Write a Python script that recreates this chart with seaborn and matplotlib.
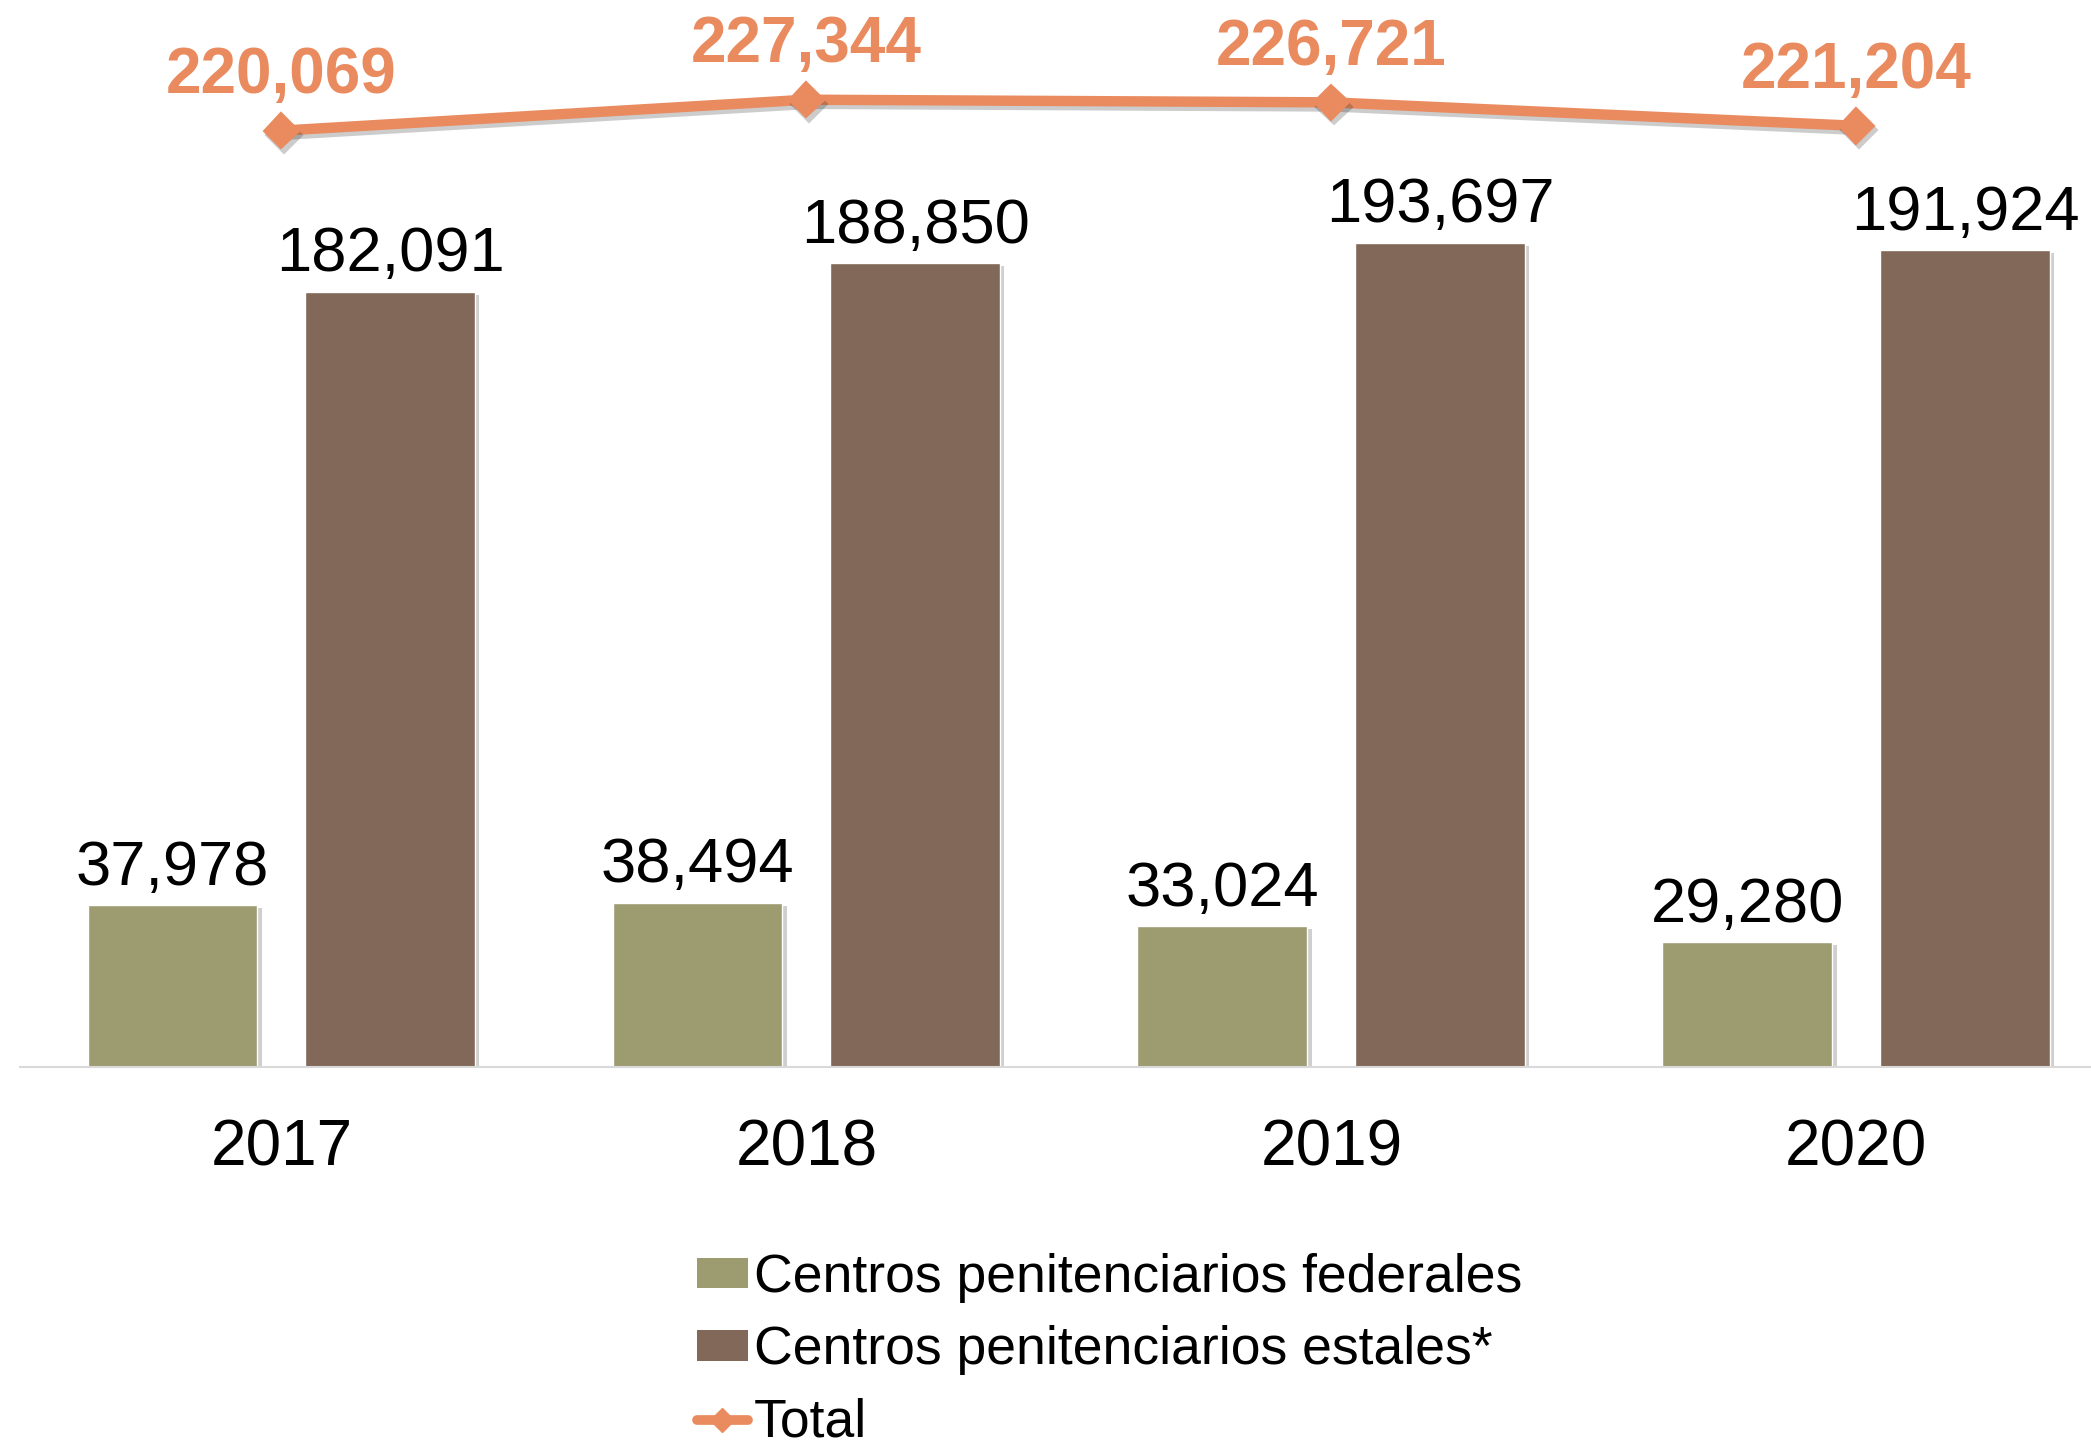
import pandas as pd
import seaborn as sns
import matplotlib.pyplot as plt
import matplotlib.patheffects as pe
from matplotlib.patches import Patch
from matplotlib.lines import Line2D

years = ['2017', '2018', '2019', '2020']
federales = [37978, 38494, 33024, 29280]
estatales = [182091, 188850, 193697, 191924]
total = [220069, 227344, 226721, 221204]
series_names = ['Centros penitenciarios federales', 'Centros penitenciarios estales*']
total_name = 'Total'

green = '#9D9B70'
brown = '#816858'
orange = '#E98B5F'

sns.set_theme(style='white')
plt.rcParams['font.family'] = ['Liberation Sans', 'DejaVu Sans']

df = pd.DataFrame({
    'year': years * 2,
    'value': federales + estatales,
    'tipo': [series_names[0]] * 4 + [series_names[1]] * 4,
})

fig = plt.figure(figsize=(20.91, 14.52), dpi=100)
ax = fig.add_axes([20 / 2091, 0.2652, 1 - 20 / 2091, 0.7348])

sns.barplot(data=df, x='year', y='value', hue='tipo', palette=[green, brown],
            width=0.83, gap=0.22, saturation=1, legend=False, ax=ax)

shadow = [pe.SimplePatchShadow(offset=(3, -2), shadow_rgbFace='#777777', alpha=0.35), pe.Normal()]
for cont in ax.containers:
    for bar in cont:
        bar.set_path_effects(shadow)
        h = bar.get_height()
        ax.annotate(f'{h:,.0f}', (bar.get_x() + bar.get_width() / 2, h),
                    xytext=(0, 15), textcoords='offset points',
                    ha='center', va='baseline', fontsize=45.5, color='black')

sns.pointplot(x=years, y=total, color=orange, markers='D', linestyles='-',
              errorbar=None, markersize=14, linewidth=7.5, ax=ax)
for ln in ax.lines:
    ln.set_path_effects([pe.SimpleLineShadow(offset=(2, -3), alpha=0.22), pe.Normal()])
    ln.set_zorder(5)

for i, v in enumerate(total):
    ax.annotate(f'{v:,}', (i, v), xytext=(0, 27), textcoords='offset points',
                ha='center', va='baseline', fontsize=46, fontweight='bold', color=orange)

ax.set_xlim(-0.498, 3.447)
ax.set_ylim(0, 250776)
ax.set_xlabel('')
ax.set_ylabel('')
ax.set_yticks([])
for s in ['top', 'left', 'right']:
    ax.spines[s].set_visible(False)
ax.spines['bottom'].set_color('#D9D9D9')
ax.spines['bottom'].set_linewidth(1.5)
ax.tick_params(axis='x', length=0, pad=37, labelsize=46, labelcolor='black')

handles = [
    Patch(facecolor=green, edgecolor='none', label=series_names[0]),
    Patch(facecolor=brown, edgecolor='none', label=series_names[1]),
    Line2D([0], [0], color=orange, lw=7, marker='D', markersize=12, label=total_name),
]
fig.legend(handles=handles, loc='upper left', bbox_to_anchor=(697 / 2091, 1 - 1253 / 1452),
           frameon=False, fontsize=38.5, labelcolor='black', handlelength=0.95, handleheight=0.5,
           handletextpad=0.12, labelspacing=0.42, borderpad=0, borderaxespad=0)

fig.savefig('out.png', dpi=100)
